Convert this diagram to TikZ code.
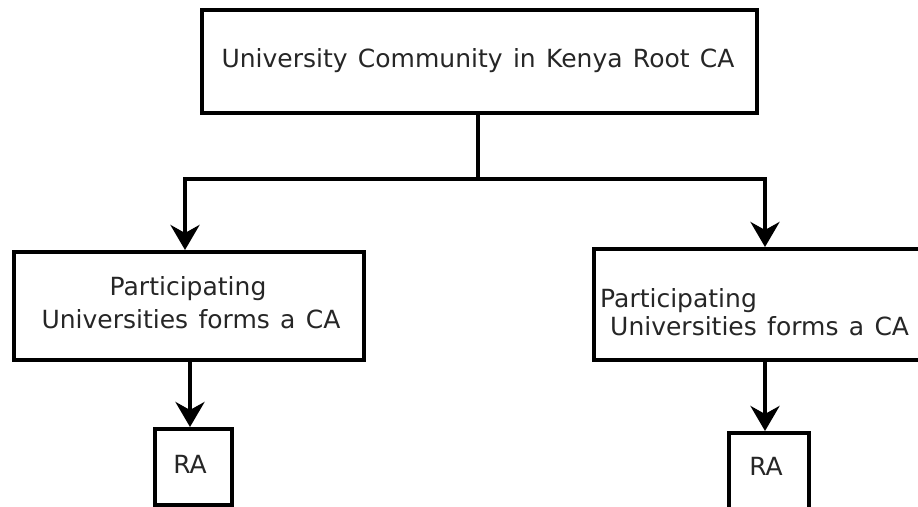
\documentclass[tikz,border=0pt]{standalone}
\usepackage{fontspec}
\setmainfont{DejaVu Sans}[WordSpace=1.3]
\usetikzlibrary{arrows.meta}
\begin{document}
\begin{tikzpicture}[x=1pt,y=-1pt,
  box/.style={draw=black,line width=4pt,fill=white,inner sep=0pt,anchor=north west},
  txt/.style={inner sep=0pt,text=black!85,font=\fontsize{25}{30}\selectfont},
  link/.style={line width=4pt,draw=black},
  flow/.style={link,-{Stealth[length=25pt,width=29pt,inset=8pt]}}]
  \useasboundingbox (0,0) rectangle (918,506);

  % boxes
  \node[box,minimum width=555pt,minimum height=103pt] (root) at (200,8) {};
  \node[box,minimum width=350pt,minimum height=108pt] (caL) at (12,250) {};
  \node[box,minimum width=332pt,minimum height=111pt] (caR) at (592,247) {};
  \node[box,minimum width=77pt,minimum height=76pt] (raL) at (153,427) {};
  \node[box,minimum width=80pt,minimum height=80pt] (raR) at (727,431) {};

  % labels
  \node[txt,anchor=base] (rootT) at (478,67) {University Community in Kenya Root CA};
  \node[txt,anchor=base] (caL1) at (188,295) {Participating};
  \node[txt,anchor=base] (caL2) at (191,328) {Universities forms a CA};
  \node[txt,anchor=base west] (caR1) at (600,307) {Participating};
  \node[txt,anchor=base west] (caR2) at (610,335) {Universities forms a CA};
  \node[txt,anchor=base] (raLT) at (190,473) {RA};
  \node[txt,anchor=base] (raRT) at (766,475) {RA};

  % connectors
  \coordinate (split) at (478,179);
  \coordinate (forkL) at (185,179);
  \coordinate (forkR) at (765,179);
  \draw[link] (root.south -| split) -- (split);
  \draw[link,line cap=rect] (forkL) -- (forkR);
  \draw[flow] (forkL) -- (forkL |- caL.north);
  \draw[flow] (forkR) -- (forkR |- caR.north);
  \draw[flow] (190,358) coordinate (dL) -- (dL |- raL.north);
  \draw[flow] (765,358) coordinate (dR) -- (dR |- raR.north);
\end{tikzpicture}
\end{document}
